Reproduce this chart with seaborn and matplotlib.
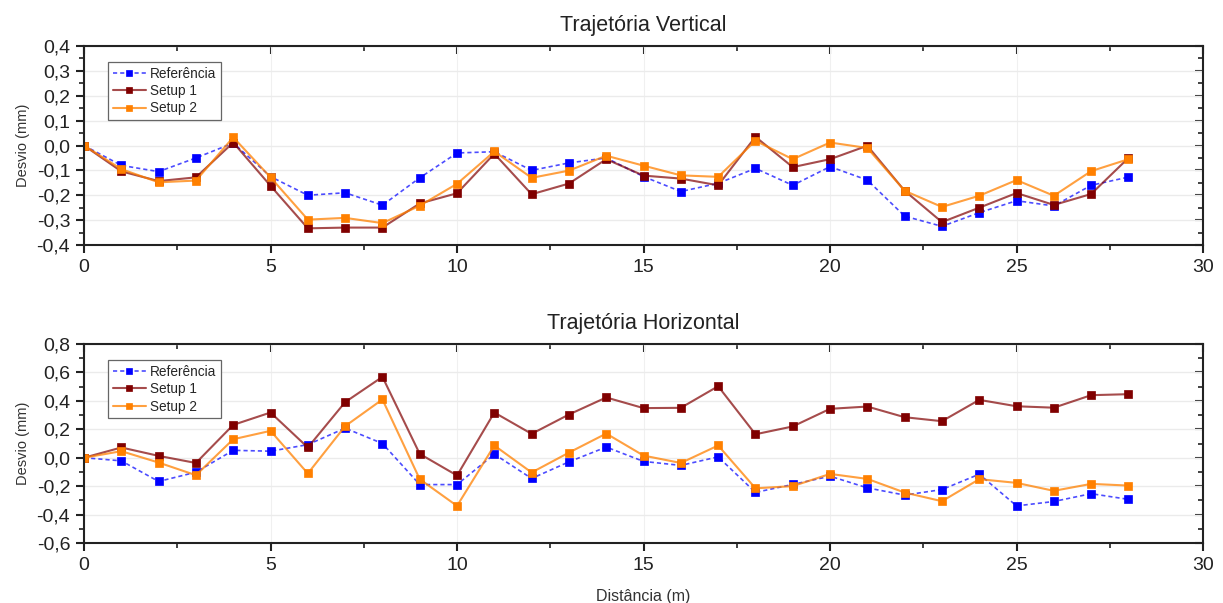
import numpy as np
import pandas as pd
import seaborn as sns
import matplotlib
matplotlib.use("Agg")
import matplotlib.pyplot as plt
from matplotlib.ticker import MultipleLocator, FuncFormatter
from matplotlib.colors import to_rgba

distance = list(range(29))

vert_ref = [0.0, -0.08, -0.105, -0.05, 0.01, -0.125, -0.2, -0.19, -0.24, -0.13,
            -0.03, -0.025, -0.1, -0.07, -0.05, -0.125, -0.185, -0.152, -0.092, -0.16,
            -0.085, -0.139, -0.284, -0.325, -0.27, -0.222, -0.243, -0.16, -0.127]
vert_s1 = [0.0, -0.104, -0.143, -0.128, 0.012, -0.162, -0.333, -0.33, -0.33, -0.233,
           -0.192, -0.033, -0.196, -0.153, -0.055, -0.121, -0.133, -0.16, 0.035, -0.087,
           -0.055, -0.001, -0.182, -0.308, -0.25, -0.191, -0.239, -0.195, -0.05]
vert_s2 = [0.0, -0.095, -0.148, -0.141, 0.033, -0.128, -0.298, -0.291, -0.312, -0.242,
           -0.154, -0.024, -0.13, -0.101, -0.041, -0.081, -0.12, -0.126, 0.019, -0.055,
           0.012, -0.01, -0.182, -0.247, -0.202, -0.139, -0.202, -0.103, -0.055]

hor_ref = [0.0, -0.022, -0.167, -0.102, 0.052, 0.046, 0.092, 0.208, 0.1, -0.189,
           -0.189, 0.025, -0.146, -0.029, 0.075, -0.026, -0.054, 0.006, -0.244, -0.188,
           -0.13, -0.212, -0.263, -0.224, -0.116, -0.339, -0.308, -0.253, -0.293]
hor_s1 = [0.0, 0.072, 0.013, -0.037, 0.231, 0.318, 0.072, 0.391, 0.569, 0.027,
          -0.125, 0.318, 0.168, 0.304, 0.424, 0.349, 0.351, 0.503, 0.165, 0.22,
          0.344, 0.36, 0.285, 0.257, 0.407, 0.362, 0.352, 0.44, 0.447]
hor_s2 = [0.0, 0.046, -0.034, -0.123, 0.13, 0.189, -0.111, 0.222, 0.41, -0.151,
          -0.339, 0.086, -0.104, 0.036, 0.17, 0.015, -0.037, 0.086, -0.215, -0.2,
          -0.114, -0.149, -0.245, -0.306, -0.151, -0.177, -0.233, -0.184, -0.196]

series_names = ["Referência", "Setup 1", "Setup 2"]
titles = ["Trajetória Vertical", "Trajetória Horizontal"]

sns.set_theme(style="white")
plt.rcParams['font.family'] = ['Liberation Sans', 'DejaVu Sans']

fig = plt.figure(figsize=(12.23, 6.03), dpi=100)
ax1 = fig.add_axes([0.0687, 0.5937, 0.915, 0.330])
ax2 = fig.add_axes([0.0687, 0.0995, 0.915, 0.330])

styles = {
    "Referência": dict(color="#0000FF", linestyle=(0, (2.5, 1.8)), lw=1.2, alpha_line=0.7),
    "Setup 1": dict(color="#800000", linestyle="-", lw=1.5, alpha_line=0.7),
    "Setup 2": dict(color="#FF8000", linestyle="-", lw=1.5, alpha_line=0.75),
}

def yfmt(v, pos):
    v = round(v, 2)
    if abs(v) < 1e-9:
        v = 0.0
    return f"{v:.1f}".replace('.', ',')

def draw(ax, data, ylim, ymaj, ymin, title):
    for name, vals in zip(series_names, data):
        st = styles[name]
        df = pd.DataFrame({"x": distance, "y": vals})
        sns.lineplot(data=df, x="x", y="y", ax=ax, color=st["color"],
                     linestyle=st["linestyle"], linewidth=st["lw"],
                     marker="s", markersize=5.5, markeredgewidth=0.5,
                     markeredgecolor=st["color"], markerfacecolor=st["color"],
                     label=name)
        line = ax.get_lines()[-1]
        line.set_color(to_rgba(st["color"], st["alpha_line"]))
        line.set_markerfacecolor(st["color"])
        line.set_markeredgecolor(st["color"])
    ax.set_xlim(0, 30)
    ax.set_ylim(*ylim)
    ax.xaxis.set_major_locator(MultipleLocator(5))
    ax.xaxis.set_minor_locator(MultipleLocator(2.5))
    ax.yaxis.set_major_locator(MultipleLocator(ymaj))
    ax.yaxis.set_minor_locator(MultipleLocator(ymin))
    ax.yaxis.set_major_formatter(FuncFormatter(yfmt))
    ax.xaxis.set_major_formatter(FuncFormatter(lambda v, p: f"{int(round(v))}"))
    ax.grid(True, which="major", axis="y", color="#ebebeb", lw=1.0)
    ax.grid(True, which="major", axis="x", color="#f0f0f0", lw=0.8)
    ax.set_axisbelow(True)
    for sp in ax.spines.values():
        sp.set_visible(True)
        sp.set_color("#222222")
        sp.set_linewidth(1.5)
    ax.tick_params(axis="both", which="major", direction="out", length=6, width=1.5,
                   color="#222222", labelsize=14, labelcolor="#222222", pad=4)
    ax.tick_params(axis="both", which="minor", direction="out", length=3.5, width=1.2,
                   color="#222222")
    ax.tick_params(axis="x", which="both", bottom=True)
    ax.tick_params(axis="y", which="both", left=True)
    # mirrored ticks (inward) on top and right
    sx = ax.secondary_xaxis("top")
    sx.xaxis.set_major_locator(MultipleLocator(5))
    sx.xaxis.set_minor_locator(MultipleLocator(2.5))
    sx.tick_params(axis="x", which="major", direction="in", length=6, width=1.5,
                   color="#222222", labeltop=False)
    sx.tick_params(axis="x", which="minor", direction="in", length=3.5, width=1.2,
                   color="#222222")
    sx.spines["top"].set_visible(False)
    sy = ax.secondary_yaxis("right")
    sy.yaxis.set_major_locator(MultipleLocator(ymaj))
    sy.yaxis.set_minor_locator(MultipleLocator(ymin))
    sy.tick_params(axis="y", which="major", direction="in", length=6, width=1.5,
                   color="#222222", labelright=False)
    sy.tick_params(axis="y", which="minor", direction="in", length=3.5, width=1.2,
                   color="#222222")
    sy.spines["right"].set_visible(False)
    ax.set_xlabel("")
    ax.set_ylabel("Desvio (mm)", fontsize=10.5, color="#333333", labelpad=5)
    ax.set_title(title, fontsize=15.5, color="#222222", pad=11)
    leg = ax.legend(loc="upper left", bbox_to_anchor=(0.0215, 0.92), fontsize=9.8,
                    frameon=True, fancybox=False, framealpha=1, edgecolor="#666666",
                    handlelength=2.4, borderpad=0.35, labelspacing=0.25,
                    handletextpad=0.3, borderaxespad=0, markerscale=0.85)
    leg.get_frame().set_linewidth(0.9)

draw(ax1, [vert_ref, vert_s1, vert_s2], (-0.4, 0.4), 0.1, 0.05, titles[0])
draw(ax2, [hor_ref, hor_s1, hor_s2], (-0.6, 0.8), 0.2, 0.1, titles[1])
ax2.set_xlabel("Distância (m)", fontsize=11.5, color="#333333", labelpad=11)

fig.savefig("out.png", dpi=100)
